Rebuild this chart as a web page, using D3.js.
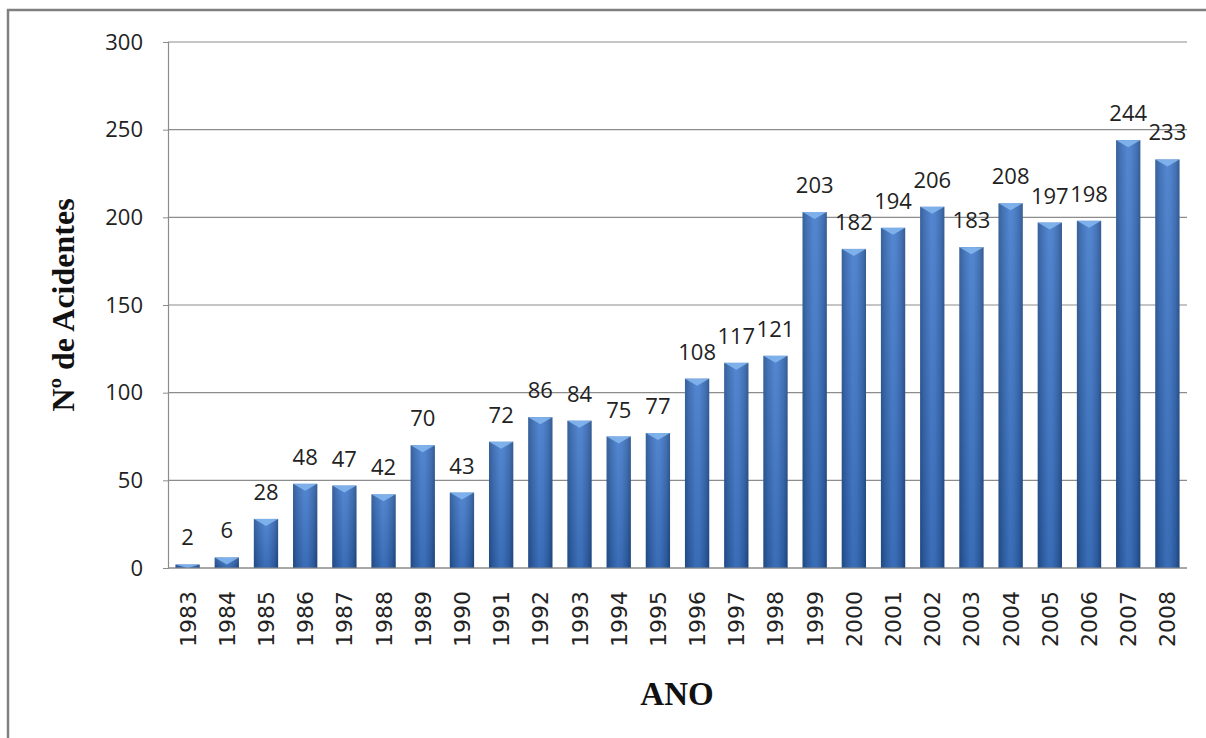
<!DOCTYPE html>
<html>
<head>
<meta charset="utf-8">
<script src="https://cdn.jsdelivr.net/npm/d3@7"></script>
<style>
  html, body { margin: 0; padding: 0; background: #fff; }
  svg { display: block; }
</style>
</head>
<body>
<svg id="chart" width="1206" height="738"></svg>
<script>
// Annual count of accidents, 1983–2008
const years = ["1983","1984","1985","1986","1987","1988","1989","1990","1991","1992","1993","1994","1995","1996","1997","1998","1999","2000","2001","2002","2003","2004","2005","2006","2007","2008"];
const accidents = [2,6,28,48,47,42,70,43,72,86,84,75,77,108,117,121,203,182,194,206,183,208,197,198,244,233];
const yTicks = [0,50,100,150,200,250,300];

const svg = d3.select("#chart");
const W = 1206, H = 738;
const plot = { left: 168, right: 1187, top: 42, bottom: 568 };

// outer frame
svg.append("rect")
  .attr("x", 8).attr("y", 10)
  .attr("width", W + 20).attr("height", H + 20)
  .attr("fill", "#fff").attr("stroke", "#808080").attr("stroke-width", 2.5);

// bar shading
const defs = svg.append("defs");
const grad = defs.append("linearGradient").attr("id", "barGrad")
  .attr("x1", "0").attr("x2", "1").attr("y1", "0").attr("y2", "0");
[["0%","#22508f"],["18%","#3063ad"],["45%","#4079cb"],["60%","#3f77c8"],["85%","#2f61aa"],["100%","#204a86"]]
  .forEach(([o,c]) => grad.append("stop").attr("offset", o).attr("stop-color", c));
const vgrad = defs.append("linearGradient").attr("id", "barShade")
  .attr("x1", "0").attr("x2", "0").attr("y1", "0").attr("y2", "1");
[["0%","#ffffff",0.1],["100%","#000000",0.1]]
  .forEach(([o,c,a]) => vgrad.append("stop").attr("offset", o).attr("stop-color", c).attr("stop-opacity", a));

const x = d3.scaleBand().domain(years).range([plot.left, plot.right]).paddingInner(0.38).paddingOuter(0.19);
const y = d3.scaleLinear().domain([0, 300]).range([plot.bottom, plot.top]);

// gridlines
svg.append("g").selectAll("line").data(yTicks).join("line")
  .attr("x1", plot.left).attr("x2", plot.right)
  .attr("y1", d => y(d)).attr("y2", d => y(d))
  .attr("stroke", "#8c8c8c").attr("stroke-width", 1.2);

// y axis
const yAxis = svg.append("g")
  .attr("transform", `translate(${plot.left},0)`)
  .call(d3.axisLeft(y).tickValues(yTicks).tickSize(5).tickPadding(20));
yAxis.select(".domain").attr("stroke", "#8c8c8c").attr("stroke-width", 1.2);
yAxis.selectAll(".tick line").attr("stroke", "#8c8c8c");
yAxis.selectAll(".tick text")
  .attr("font-family", "'Open Sans', sans-serif").attr("font-size", 22).attr("fill", "#222");

// bars
const bars = svg.append("g").selectAll("g").data(years).join("g");
bars.append("rect")
  .attr("x", d => x(d)).attr("width", x.bandwidth())
  .attr("y", (d, i) => y(accidents[i])).attr("height", (d, i) => y(0) - y(accidents[i]))
  .attr("fill", "url(#barGrad)");
bars.append("rect")
  .attr("x", d => x(d)).attr("width", x.bandwidth())
  .attr("y", (d, i) => y(accidents[i])).attr("height", (d, i) => y(0) - y(accidents[i]))
  .attr("fill", "url(#barShade)");
// bevelled top
bars.append("path")
  .attr("d", (d, i) => {
    const x0 = x(d), w = x.bandwidth(), t = y(accidents[i]);
    const h = Math.min(7, y(0) - t);
    return `M${x0},${t}L${x0 + w},${t}L${x0 + w / 2},${t + h}Z`;
  })
  .attr("fill", "#86b8f0").attr("opacity", 0.85);

// baseline
svg.append("line")
  .attr("x1", plot.left).attr("x2", plot.right)
  .attr("y1", y(0)).attr("y2", y(0))
  .attr("stroke", "#8c8c8c").attr("stroke-width", 1.2);

// value labels
svg.append("g").selectAll("text").data(years).join("text")
  .attr("x", d => x(d) + x.bandwidth() / 2)
  .attr("y", (d, i) => y(accidents[i]) - 19)
  .attr("text-anchor", "middle")
  .attr("font-family", "'Open Sans', sans-serif").attr("font-size", 22).attr("fill", "#222")
  .text((d, i) => accidents[i]);

// year labels
svg.append("g").selectAll("text").data(years).join("text")
  .attr("transform", d => `translate(${x(d) + x.bandwidth() / 2 + 8},591) rotate(-90)`)
  .attr("text-anchor", "end")
  .attr("font-family", "'DejaVu Sans', sans-serif").attr("font-size", 22).attr("fill", "#222")
  .text(d => d);

// axis titles
svg.append("text")
  .attr("transform", "translate(74,305) rotate(-90)")
  .attr("text-anchor", "middle")
  .attr("font-family", "'Liberation Serif', 'Times New Roman', serif")
  .attr("font-weight", "bold").attr("font-size", 32).attr("fill", "#111")
  .text("Nº de Acidentes");
svg.append("text")
  .attr("x", 677).attr("y", 705)
  .attr("text-anchor", "middle")
  .attr("font-family", "'Liberation Serif', 'Times New Roman', serif")
  .attr("font-weight", "bold").attr("font-size", 33).attr("fill", "#111")
  .text("ANO");
</script>
</body>
</html>
